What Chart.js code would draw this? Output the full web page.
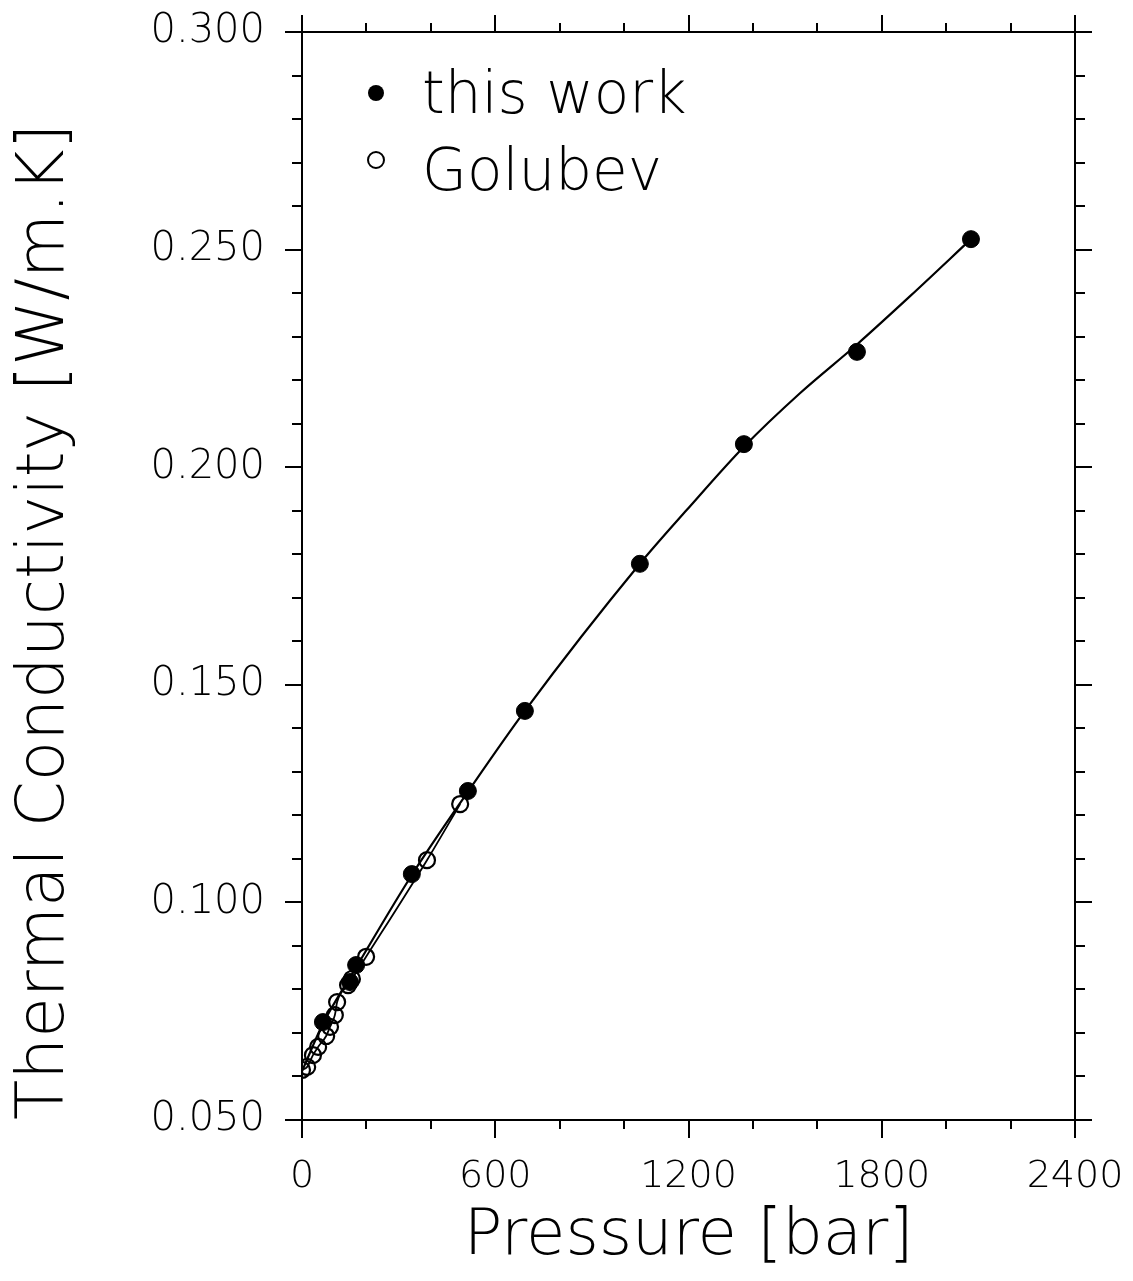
<!DOCTYPE html>
<html>
<head>
<meta charset="utf-8">
<script src="https://cdn.jsdelivr.net/npm/chart.js@4.4.1/dist/chart.umd.min.js"></script>
<style>
  html, body { margin: 0; padding: 0; background: #ffffff; }
  #c { display: block; }
</style>
</head>
<body>
<canvas id="c" width="1133" height="1281"></canvas>
<script>
// ---- data ----
const thisWorkP = [65, 149, 168, 341, 515, 692, 1049, 1372, 1723, 2077];
const thisWorkK = [0.0725, 0.0817, 0.0856, 0.1065, 0.1256, 0.1440, 0.1778, 0.2053, 0.2265, 0.2524];

const golubevP = [0, 16, 34, 50, 75, 87, 102, 109, 143, 155, 199, 388, 491];
const golubevK = [0.0615, 0.0622, 0.0649, 0.0668, 0.0693, 0.0714, 0.0741, 0.0771, 0.0810, 0.0824, 0.0875, 0.1097, 0.1226];

// smooth fit curve for this work
const fitP = [0, 65, 170, 341, 515, 692, 1049, 1195, 1372, 1546, 1723, 1888, 2077];
const fitK = [0.0612, 0.0721, 0.0853, 0.1063, 0.1254, 0.1440, 0.1778, 0.1902, 0.2047, 0.2170, 0.2282, 0.2393, 0.2524];

const xTickLabels = [0, 600, 1200, 1800, 2400];
const yTickLabels = [0.050, 0.100, 0.150, 0.200, 0.250, 0.300];
const xMinorStep = 200;
const yMinorStep = 0.01;

const xTitle = 'Pressure [bar]';
const yTitle = 'Thermal Conductivity [W/m.K]';
const legendLabels = ['this work', 'Golubev'];

// ---- build library structures ----
const toPts = (xs, ys) => xs.map((x, i) => ({ x: x, y: ys[i] }));
const thisWorkPts = toPts(thisWorkP, thisWorkK);
const golubevPts = toPts(golubevP, golubevK);
const fitPts = toPts(fitP, fitK);

const FONT = "'DejaVu Sans', sans-serif";
const WEIGHT = 200;

const noPad = s => { s.paddingTop = 0; s.paddingBottom = 0; s.paddingLeft = 0; s.paddingRight = 0; };

const framePlugin = {
  id: 'frameTicks',
  afterDraw(chart) {
    const ctx = chart.ctx;
    const a = chart.chartArea;
    const xs = chart.scales.x, ys = chart.scales.y;
    ctx.save();
    ctx.strokeStyle = '#000';
    ctx.lineWidth = 2;
    ctx.strokeRect(a.left, a.top, a.right - a.left, a.bottom - a.top);
    ctx.beginPath();
    for (let v = xs.min; v <= xs.max + 1e-9; v += xMinorStep) {
      const px = Math.round(xs.getPixelForValue(v));
      const major = xTickLabels.some(t => Math.abs(t - v) < 1e-6);
      const lb = major ? 18 : 9;
      const lt = major ? 17 : 9;
      ctx.moveTo(px, a.bottom); ctx.lineTo(px, a.bottom + lb);
      ctx.moveTo(px, a.top); ctx.lineTo(px, a.top - lt);
    }
    const nY = Math.round((ys.max - ys.min) / yMinorStep);
    for (let i = 0; i <= nY; i++) {
      const v = ys.min + i * yMinorStep;
      const py = Math.round(ys.getPixelForValue(v));
      const major = yTickLabels.some(t => Math.abs(t - v) < 1e-6);
      const l = major ? 17 : 10;
      ctx.moveTo(a.left, py); ctx.lineTo(a.left - l, py);
      ctx.moveTo(a.right, py); ctx.lineTo(a.right + l, py);
    }
    ctx.stroke();

    // legend inside plot
    const lx = a.left + 74;
    const tx = a.left + 120;
    const rows = [{ y: a.top + 61, base: a.top + 81, filled: true }, { y: a.top + 128, base: a.top + 158, filled: false }];
    ctx.font = WEIGHT + ' 58px ' + FONT;
    ctx.fillStyle = '#000';
    ctx.textBaseline = 'alphabetic';
    ctx.textAlign = 'left';
    rows.forEach((r, i) => {
      ctx.beginPath();
      ctx.arc(lx, r.y, 8, 0, Math.PI * 2);
      if (r.filled) { ctx.fill(); } else { ctx.lineWidth = 2; ctx.stroke(); }
      ctx.fillText(legendLabels[i], tx, r.base);
    });
    ctx.restore();
  }
};

new Chart(document.getElementById('c'), {
  type: 'scatter',
  data: {
    datasets: [
      {
        label: 'fit',
        data: fitPts,
        showLine: true,
        pointRadius: 0,
        borderColor: '#000',
        borderWidth: 2.2,
        cubicInterpolationMode: 'monotone',
        order: 3
      },
      {
        label: 'Golubev line',
        data: golubevPts,
        showLine: true,
        pointRadius: 0,
        borderColor: '#000',
        borderWidth: 1.8,
        cubicInterpolationMode: 'monotone',
        order: 4
      },
      {
        label: legendLabels[1],
        data: golubevPts,
        pointRadius: 8,
        pointBorderWidth: 2.2,
        pointBackgroundColor: 'rgba(255,255,255,0)',
        pointBorderColor: '#000',
        order: 2
      },
      {
        label: legendLabels[0],
        data: thisWorkPts,
        pointRadius: 8.5,
        pointBorderWidth: 1,
        pointBackgroundColor: '#000',
        pointBorderColor: '#000',
        order: 1
      }
    ]
  },
  options: {
    responsive: false,
    animation: false,
    events: [],
    layout: { padding: { top: 32, right: 58, left: 0, bottom: 0 } },
    plugins: { legend: { display: false }, tooltip: { enabled: false } },
    scales: {
      x: {
        type: 'linear',
        min: 0, max: 2400,
        afterFit: s => { s.height = 161; noPad(s); },
        afterBuildTicks: s => { s.ticks = xTickLabels.map(v => ({ value: v })); },
        grid: { display: false, drawTicks: false },
        border: { display: false },
        ticks: {
          color: '#000',
          font: { family: FONT, size: 38, weight: WEIGHT },
          padding: 34,
          maxRotation: 0,
          callback: v => String(v)
        },
        title: {
          display: true,
          text: xTitle,
          color: '#000',
          font: { family: FONT, size: 64, lineHeight: 1, weight: WEIGHT },
          padding: { top: 0, bottom: 12 }
        }
      },
      y: {
        type: 'linear',
        min: 0.05, max: 0.30,
        afterFit: s => { s.width = 302; noPad(s); },
        afterBuildTicks: s => { s.ticks = yTickLabels.map(v => ({ value: v })); },
        grid: { display: false, drawTicks: false },
        border: { display: false },
        ticks: {
          color: '#000',
          font: { family: FONT, size: 40, weight: WEIGHT },
          padding: 37,
          callback: v => Number(v).toFixed(3)
        },
        title: {
          display: true,
          text: yTitle,
          align: 'start',
          color: '#000',
          font: { family: FONT, size: 66, lineHeight: 1, weight: WEIGHT },
          padding: { top: 13, bottom: 0 }
        }
      }
    }
  },
  plugins: [framePlugin]
});
</script>
</body>
</html>
